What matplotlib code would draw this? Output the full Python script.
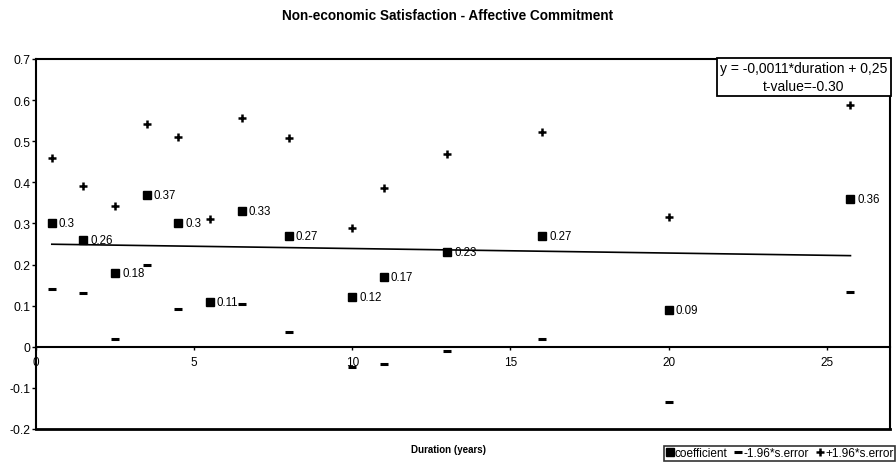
import numpy as np
import matplotlib
matplotlib.use("Agg")
import matplotlib.pyplot as plt
from matplotlib.ticker import FuncFormatter, MultipleLocator

plt.rcParams['font.family'] = ['Liberation Sans', 'DejaVu Sans']

duration = [0.5, 1.5, 2.5, 3.5, 4.5, 5.5, 6.5, 8, 10, 11, 13, 16, 20, 25.75]
coefficient = [0.30, 0.26, 0.18, 0.37, 0.30, 0.11, 0.33, 0.27, 0.12, 0.17, 0.23, 0.27, 0.09, 0.36]
lower = [0.141, 0.131, 0.020, 0.200, 0.093, np.nan, 0.104, 0.035, -0.048, -0.043, -0.010, 0.020, -0.135, 0.133]
upper = [0.460, 0.391, 0.343, 0.543, 0.510, 0.311, 0.557, 0.507, 0.290, 0.386, 0.470, 0.523, 0.315, 0.589]
slope = -0.0011
intercept = 0.25
t_value = "-0.30"

title = "Non-economic Satisfaction - Affective Commitment"
xlabel = "Duration (years)"

fig = plt.figure(figsize=(8.96, 4.64), dpi=100)
ax = fig.add_axes([36/896, 1-430/464, (890-36)/896, (430-60)/464])

ax.plot(duration, coefficient, linestyle='none', marker='s', color='black',
        markersize=5.2, label='coefficient')
ax.plot(duration, lower, linestyle='none', marker='_', color='black',
        markersize=5.5, markeredgewidth=2.2, label='-1.96*s.error')
ax.plot(duration, upper, linestyle='none', marker='+', color='black',
        markersize=5.5, markeredgewidth=1.8, label='+1.96*s.error')

xs = np.array([min(duration), max(duration)])
ax.plot(xs, slope*xs + intercept, color='black', linewidth=1.2)

for x, c in zip(duration, coefficient):
    ax.annotate(f"{c:g}", (x, c), xytext=(5, 0), textcoords='offset points',
                va='center', ha='left', fontsize=8.3)

ax.set_xlim(0, 27)
ax.set_ylim(-0.2, 0.7)
ax.xaxis.set_major_locator(MultipleLocator(5))
ax.yaxis.set_major_locator(MultipleLocator(0.1))
ax.yaxis.set_major_formatter(FuncFormatter(lambda v, p: f"{round(v, 2):g}"))
ax.xaxis.set_major_formatter(FuncFormatter(lambda v, p: f"{v:g}"))

ax.spines['bottom'].set_position(('data', 0))
for s in ['left', 'right', 'top', 'bottom']:
    ax.spines[s].set_linewidth(1.5)
ax.plot([0, 1], [0, 0], transform=ax.transAxes, color='black', linewidth=2, clip_on=False)

ax.tick_params(axis='x', direction='out', length=2, width=1, labelsize=8.5, pad=5)
ax.tick_params(axis='y', direction='out', length=3, width=1, labelsize=8.8, pad=1)

ax.text((804-36)/(890-36), 0.995, f"y = {str(slope).replace('.', ',')}*duration + {str(intercept).replace('.', ',')}\nt-value={t_value}",
        transform=ax.transAxes, ha='center', va='top', fontsize=10, linespacing=1.4,
        bbox=dict(boxstyle='square,pad=0.22', facecolor='white', edgecolor='black', linewidth=1.3))

fig.text(0.5, 1-16/464, title, ha='center', va='center', fontsize=9.8, fontweight='bold')
fig.text(0.5, 1-450/464, xlabel, ha='center', va='center', fontsize=7, fontweight='bold')

leg = fig.legend(loc='lower right', bbox_to_anchor=(0.999, 0.004), ncol=3, fontsize=8.5,
                 frameon=True, fancybox=False, edgecolor='black', handlelength=0.6,
                 handletextpad=0.15, columnspacing=0.6, borderpad=0.15, borderaxespad=0)
leg.get_frame().set_linewidth(1.2)

fig.savefig('out.png', dpi=100)
